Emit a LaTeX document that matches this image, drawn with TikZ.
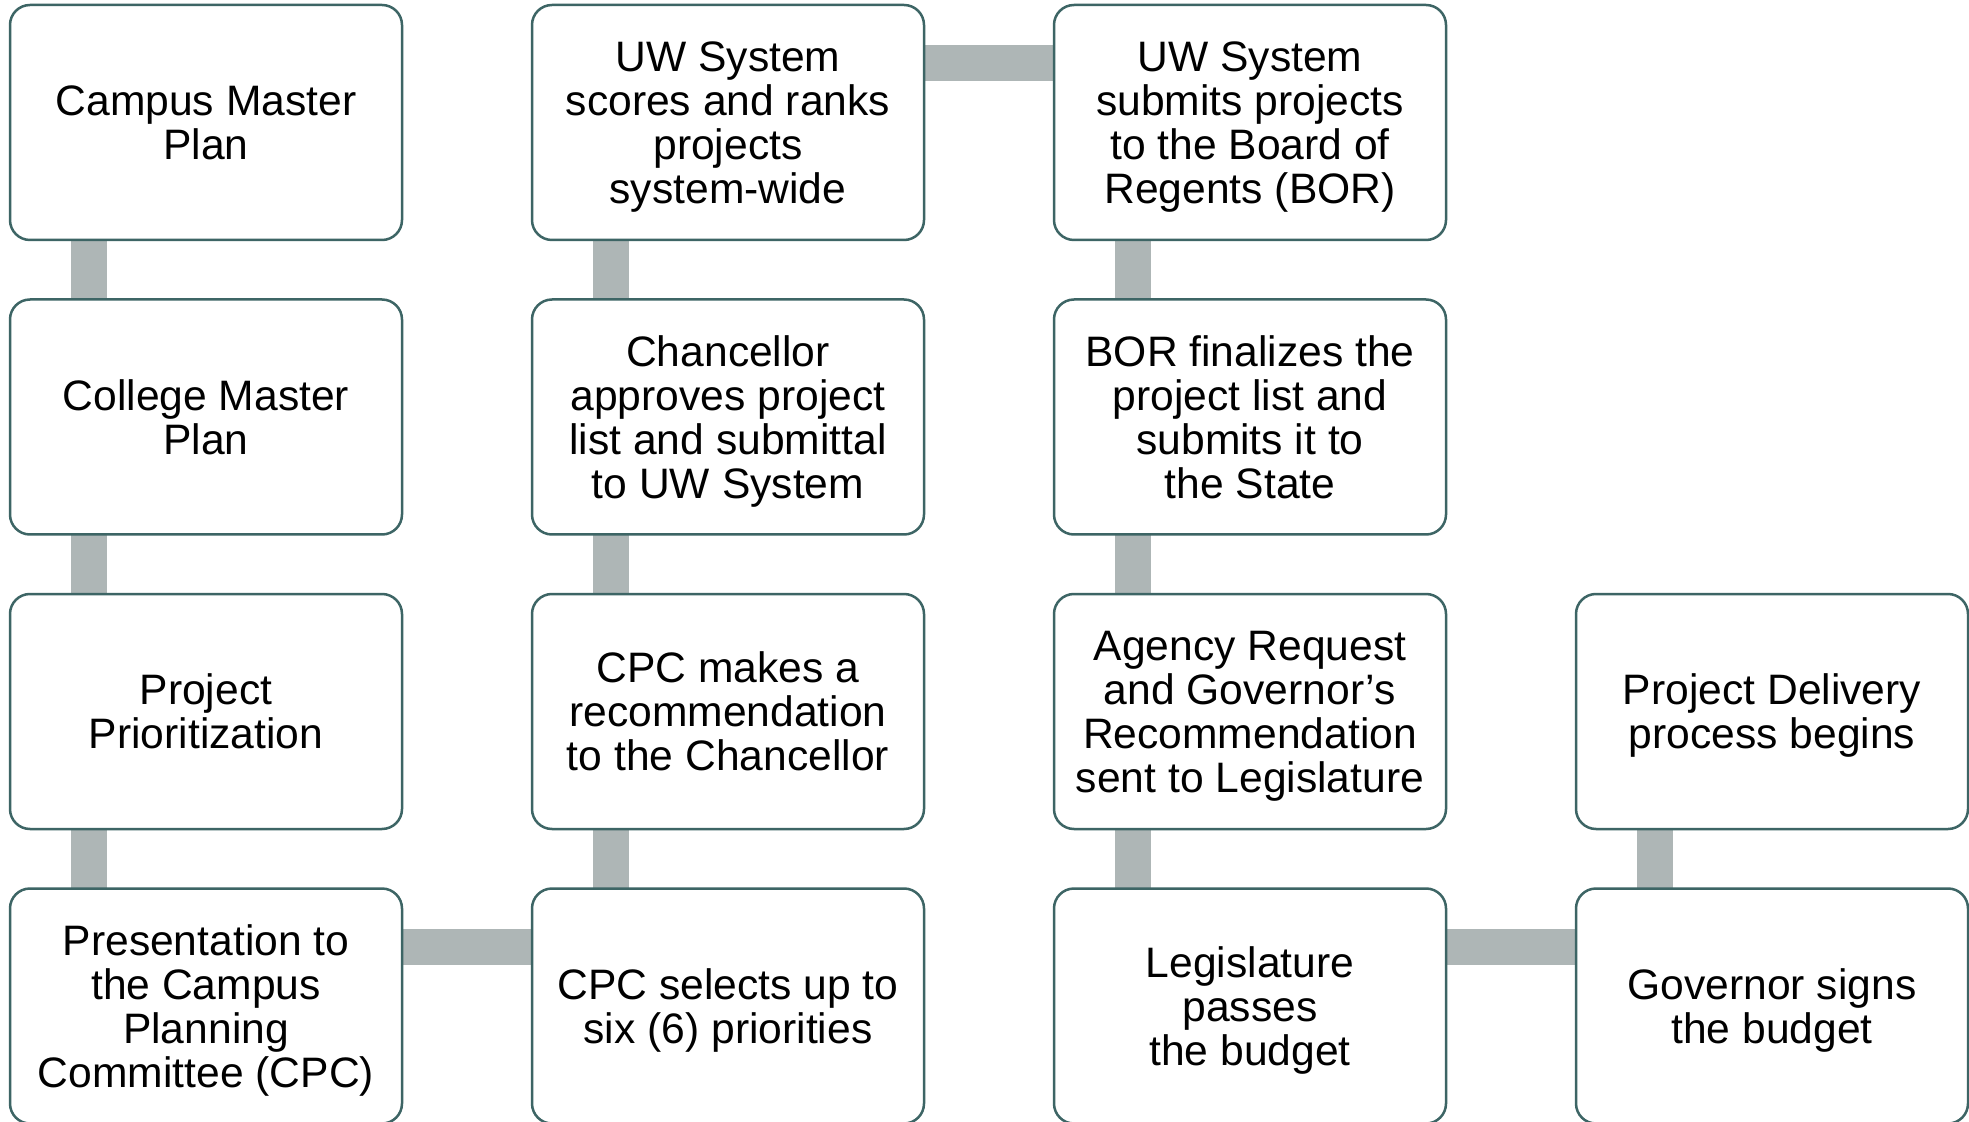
\documentclass[tikz,border=0pt]{standalone}
\usepackage{fontspec}
\setmainfont{Liberation Sans}
\usetikzlibrary{backgrounds}
\definecolor{boxline}{HTML}{3D6565}
\definecolor{linkgray}{HTML}{AEB6B6}
% line strut so that every label is centred on the same ascent/descent
\newcommand\linestrut{\rule[-4.7pt]{0pt}{24.7pt}}
\tikzset{
  stage/.style={draw=boxline, line width=1.25pt, fill=white, rounded corners=10pt,
    minimum width=196pt, minimum height=117.5pt, align=center,
    font=\fontsize{21.3}{22}\selectfont, inner sep=0pt, outer sep=0pt,
    execute at end node=\linestrut},
  link/.style={draw=linkgray, line width=18pt},
}
\begin{document}
\begin{tikzpicture}[x=0.5pt,y=-0.5pt]
\useasboundingbox (0,0) rectangle (1969,1122);

% first column
\node[stage] (a1) at (206,122.5) {\linestrut Campus Master\\Plan};
\node[stage] (a2) at (206,417) {\linestrut College Master\\Plan};
\node[stage] (a3) at (206,711.5) {\linestrut Project\\Prioritization};
\node[stage] (a4) at (206,1006) {\linestrut Presentation to\\the Campus\\Planning\\Committee (CPC)};

% second column
\node[stage] (b1) at (728,122.5) {\linestrut UW System\\scores and ranks\\projects\\system-wide};
\node[stage] (b2) at (728,417) {\linestrut Chancellor\\approves project\\list and submittal\\to UW System};
\node[stage] (b3) at (728,711.5) {\linestrut CPC makes a\\recommendation\\to the Chancellor};
\node[stage] (b4) at (728,1006) {\linestrut CPC selects up to\\six (6) priorities};

% third column
\node[stage] (c1) at (1250,122.5) {\linestrut UW System\\submits projects\\to the Board of\\Regents (BOR)};
\node[stage] (c2) at (1250,417) {\linestrut BOR finalizes the\\project list and\\submits it to\\the State};
\node[stage] (c3) at (1250,711.5) {\linestrut Agency Request\\and Governor’s\\Recommendation\\sent to Legislature};
\node[stage] (c4) at (1250,1006) {\linestrut Legislature\\passes\\the budget};

% fourth column
\node[stage] (d3) at (1772,711.5) {\linestrut Project Delivery\\process begins};
\node[stage] (d4) at (1772,1006) {\linestrut Governor signs\\the budget};

\begin{scope}[on background layer]
  \fill[white] (0,0) rectangle (1969,1122);
  % vertical links
  \foreach \u/\l in {a1/a2,a2/a3,a3/a4,b1/b2,b2/b3,b3/b4,c1/c2,c2/c3,c3/c4,d3/d4}
    \draw[link] ([xshift=39.5pt]\u.south west) -- ([xshift=39.5pt]\l.north west);
  % horizontal links
  \foreach \l/\r in {a4/b4,b1/c1,c4/d4}
    \draw[link] ([yshift=-29pt]\l.north east) -- ([yshift=-29pt]\r.north west);
\end{scope}
\end{tikzpicture}
\end{document}
